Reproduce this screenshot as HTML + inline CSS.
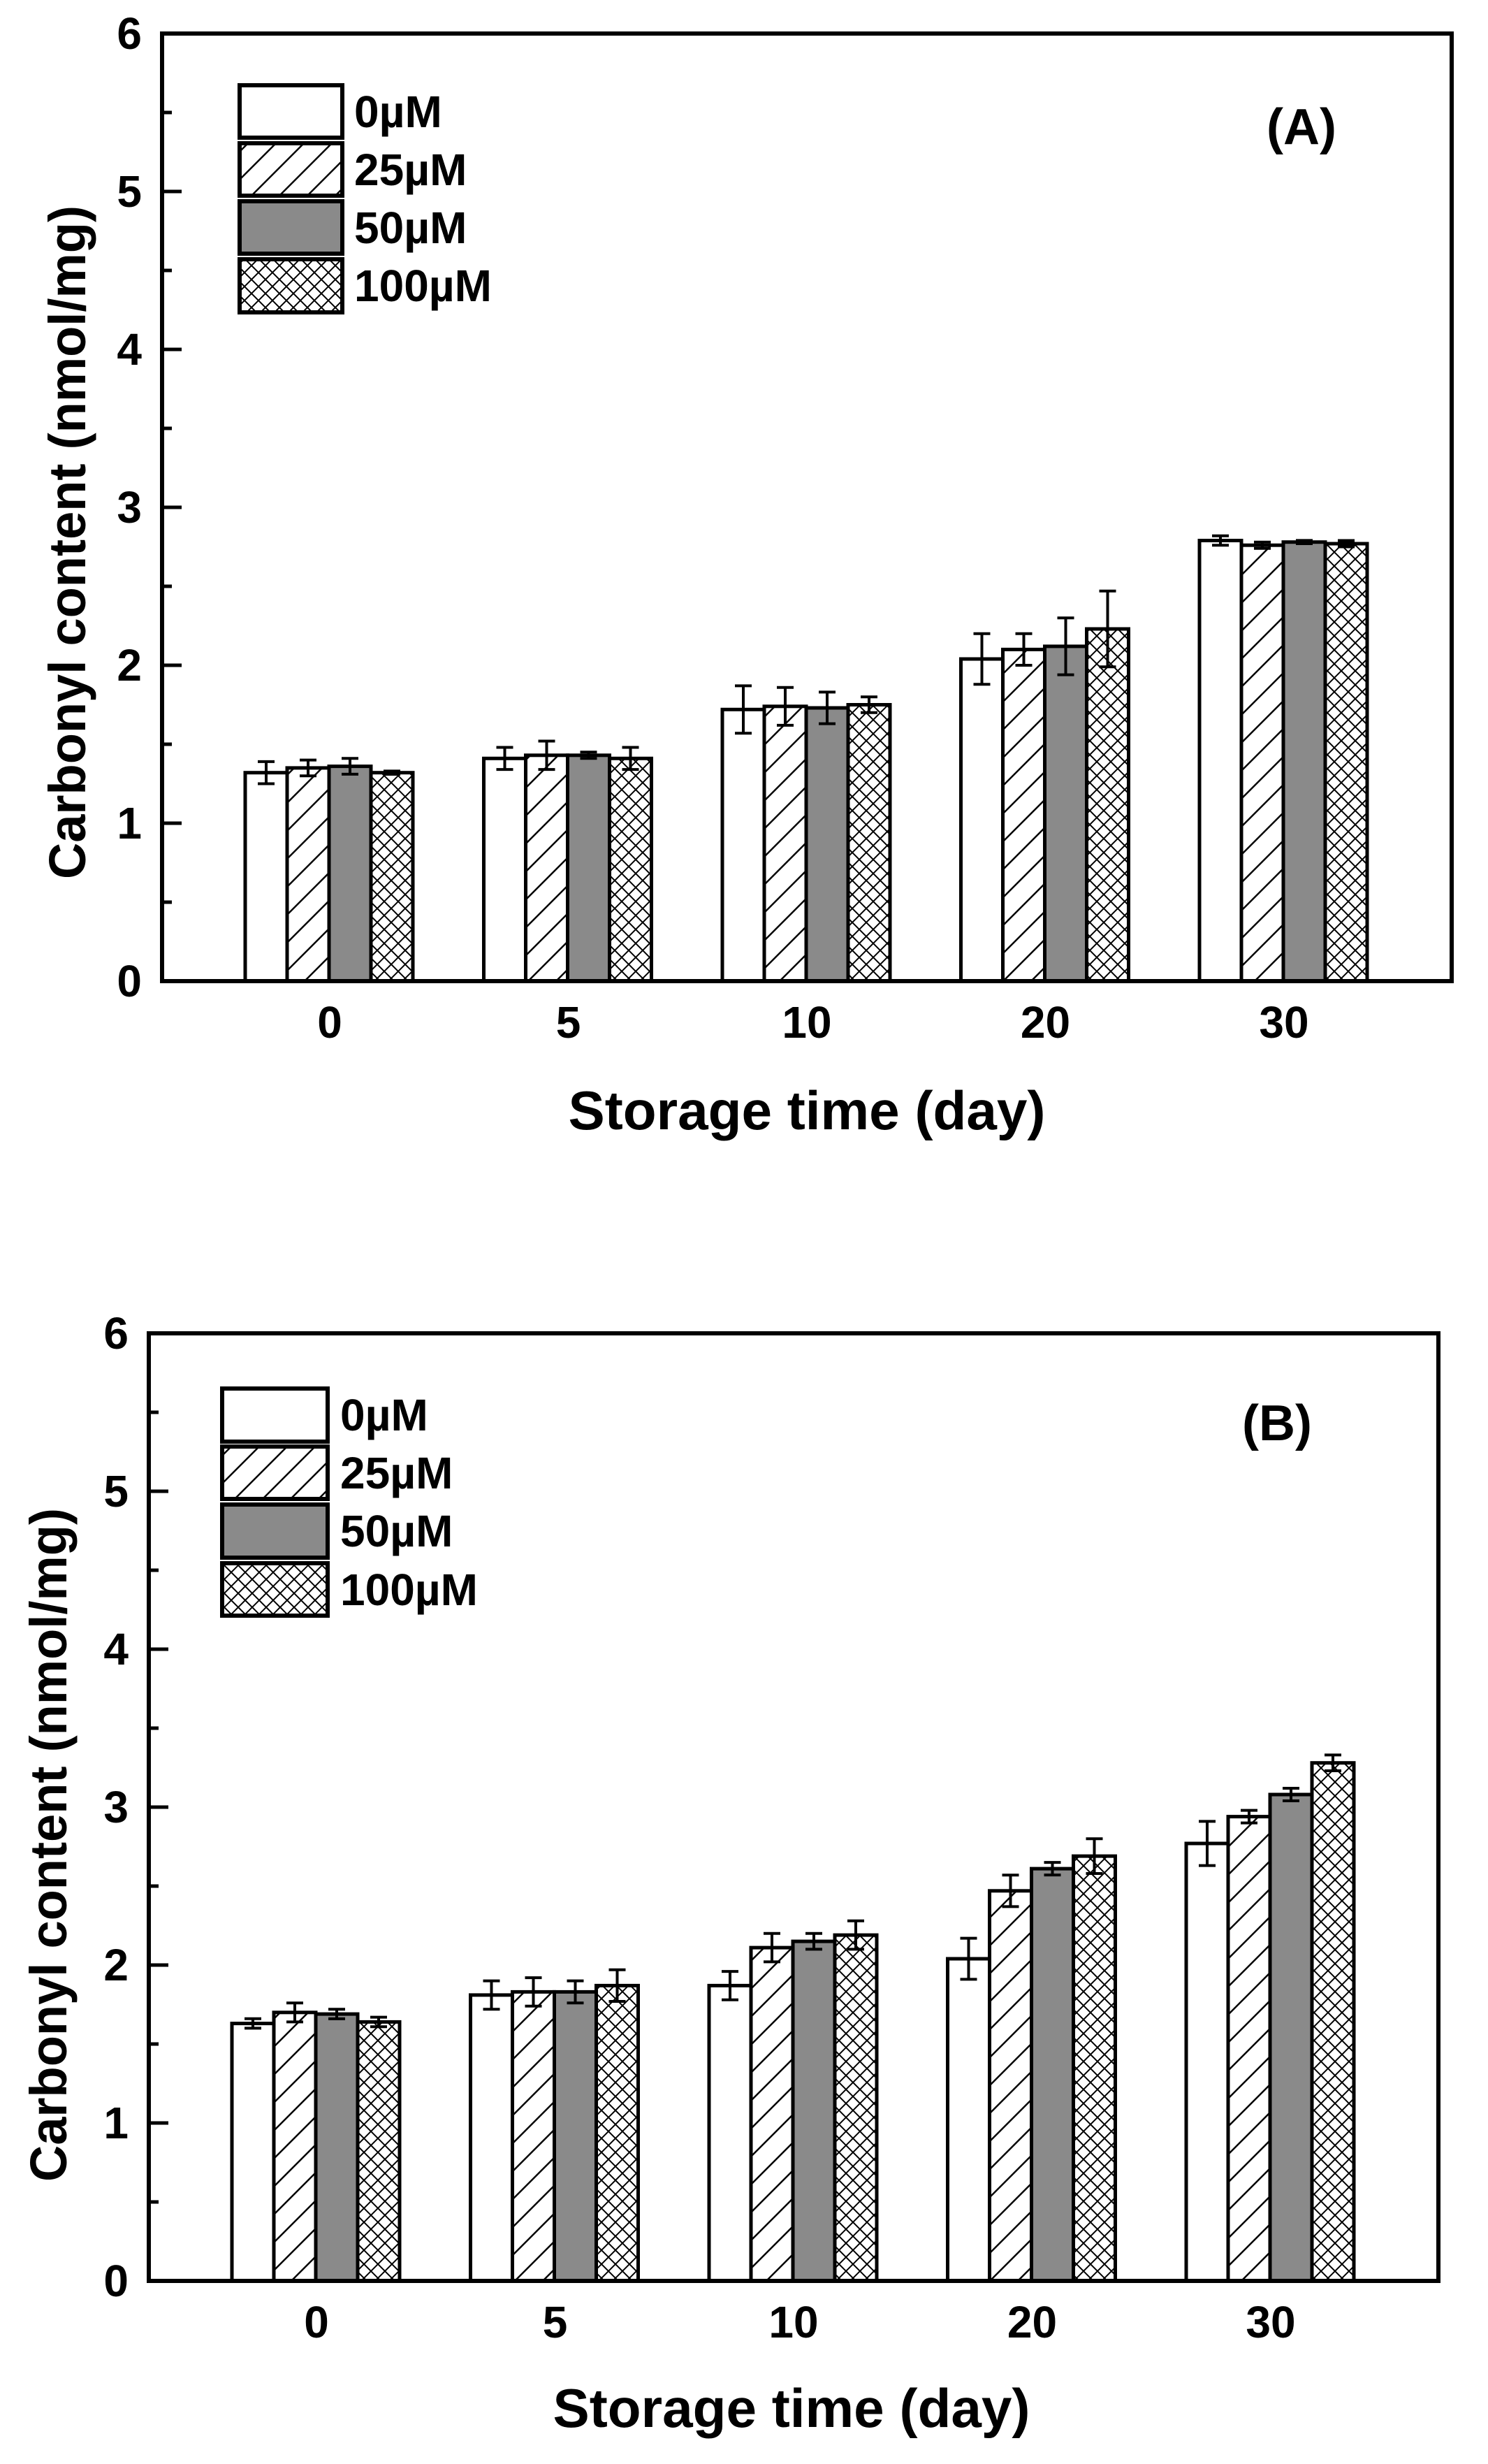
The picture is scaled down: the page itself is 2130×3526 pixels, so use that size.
<!DOCTYPE html>
<html><head><meta charset="utf-8"><style>html,body{margin:0;padding:0;background:#fff}svg{display:block}</style></head>
<body>
<svg xmlns="http://www.w3.org/2000/svg" width="2130" height="3526" viewBox="0 0 2130 3526" font-family="Liberation Sans, Arial, sans-serif" font-weight="bold">
<defs>
<pattern id="h" patternUnits="userSpaceOnUse" width="40" height="40"><path d="M0,40 L40,0 M-10,10 L10,-10 M30,50 L50,30" stroke="#000" stroke-width="2.5"/></pattern>
<pattern id="x" patternUnits="userSpaceOnUse" width="20" height="20"><path d="M0,20 L20,0 M-5,5 L5,-5 M15,25 L25,15 M0,0 L20,20 M-5,15 L5,25 M15,-5 L25,5" stroke="#000" stroke-width="2"/></pattern>
</defs>
<rect width="2130" height="3526" fill="#fff"/>

<g id="A">
<g stroke="#000" stroke-width="5">
<rect x="351" y="1105.7" width="60" height="298.3" fill="#fff"/>
<rect x="411" y="1098.9" width="60" height="305.1" fill="url(#h)"/>
<rect x="471" y="1096.6" width="60" height="307.4" fill="#8a8a8a"/>
<rect x="531" y="1105.7" width="60" height="298.3" fill="url(#x)"/>
<rect x="692.5" y="1085.3" width="60" height="318.7" fill="#fff"/>
<rect x="752.5" y="1080.8" width="60" height="323.2" fill="url(#h)"/>
<rect x="812.5" y="1080.8" width="60" height="323.2" fill="#8a8a8a"/>
<rect x="872.5" y="1085.3" width="60" height="318.7" fill="url(#x)"/>
<rect x="1034" y="1015.3" width="60" height="388.7" fill="#fff"/>
<rect x="1094" y="1010.8" width="60" height="393.2" fill="url(#h)"/>
<rect x="1154" y="1013" width="60" height="391" fill="#8a8a8a"/>
<rect x="1214" y="1008.5" width="60" height="395.5" fill="url(#x)"/>
<rect x="1375.5" y="943" width="60" height="461" fill="#fff"/>
<rect x="1435.5" y="929.4" width="60" height="474.6" fill="url(#h)"/>
<rect x="1495.5" y="924.9" width="60" height="479.1" fill="#8a8a8a"/>
<rect x="1555.5" y="900" width="60" height="504" fill="url(#x)"/>
<rect x="1717" y="773.5" width="60" height="630.5" fill="#fff"/>
<rect x="1777" y="780.2" width="60" height="623.8" fill="url(#h)"/>
<rect x="1837" y="775.7" width="60" height="628.3" fill="#8a8a8a"/>
<rect x="1897" y="778" width="60" height="626" fill="url(#x)"/>
</g>
<g stroke="#000" stroke-width="4" fill="none">
<path d="M381,1089.9V1121.5M369,1089.9H393M369,1121.5H393"/>
<path d="M441,1087.6V1110.2M429,1087.6H453M429,1110.2H453"/>
<path d="M501,1085.3V1107.9M489,1085.3H513M489,1107.9H513"/>
<path d="M561,1103.4V1108M549,1103.4H573M549,1108H573"/>
<path d="M722.5,1069.5V1101.1M710.5,1069.5H734.5M710.5,1101.1H734.5"/>
<path d="M782.5,1060.5V1101.1M770.5,1060.5H794.5M770.5,1101.1H794.5"/>
<path d="M842.5,1076.3V1085.3M830.5,1076.3H854.5M830.5,1085.3H854.5"/>
<path d="M902.5,1069.5V1101.1M890.5,1069.5H914.5M890.5,1101.1H914.5"/>
<path d="M1064,981.4V1049.2M1052,981.4H1076M1052,1049.2H1076"/>
<path d="M1124,983.7V1037.9M1112,983.7H1136M1112,1037.9H1136"/>
<path d="M1184,990.4V1035.6M1172,990.4H1196M1172,1035.6H1196"/>
<path d="M1244,997.2V1019.8M1232,997.2H1256M1232,1019.8H1256"/>
<path d="M1405.5,906.8V979.2M1393.5,906.8H1417.5M1393.5,979.2H1417.5"/>
<path d="M1465.5,906.8V952M1453.5,906.8H1477.5M1453.5,952H1477.5"/>
<path d="M1525.5,884.2V965.6M1513.5,884.2H1537.5M1513.5,965.6H1537.5"/>
<path d="M1585.5,845.8V954.2M1573.5,845.8H1597.5M1573.5,954.2H1597.5"/>
<path d="M1747,766.7V780.3M1735,766.7H1759M1735,780.3H1759"/>
<path d="M1807,775.7V784.7M1795,775.7H1819M1795,784.7H1819"/>
<path d="M1867,773.4V778M1855,773.4H1879M1855,778H1879"/>
<path d="M1927,773.5V782.5M1915,773.5H1939M1915,782.5H1939"/>
</g>
<rect x="232" y="48" width="1846" height="1356" fill="none" stroke="#000" stroke-width="6"/>
<path stroke="#000" stroke-width="5" d="M232,1404h28M232,1178h28M232,952h28M232,726h28M232,500h28M232,274h28M232,1291h14M232,1065h14M232,839h14M232,613h14M232,387h14M232,161h14"/>
<g font-size="64" text-anchor="end">
<text x="203" y="1426">0</text><text x="203" y="1200">1</text><text x="203" y="974">2</text><text x="203" y="748">3</text><text x="203" y="522">4</text><text x="203" y="296">5</text><text x="203" y="70">6</text>
</g>
<g font-size="64" text-anchor="middle">
<text x="472" y="1485">0</text><text x="813.5" y="1485">5</text><text x="1155" y="1485">10</text><text x="1496.5" y="1485">20</text><text x="1838" y="1485">30</text>
</g>
<text x="1155" y="1616" font-size="78" text-anchor="middle" textLength="683" lengthAdjust="spacingAndGlyphs">Storage time (day)</text>
<text transform="translate(122,776) rotate(-90)" font-size="74" text-anchor="middle" textLength="964" lengthAdjust="spacingAndGlyphs">Carbonyl content (nmol/mg)</text>
<text x="1863" y="206" font-size="72" text-anchor="middle">(A)</text>
<g stroke="#000" stroke-width="6">
<rect x="343" y="122" width="147" height="75" fill="#fff"/>
<rect x="343" y="205" width="147" height="75" fill="url(#h)"/>
<rect x="343" y="288" width="147" height="75" fill="#8a8a8a"/>
<rect x="343" y="371" width="147" height="76" fill="url(#x)"/>
</g>
<g font-size="64">
<text x="507" y="182">0µM</text><text x="507" y="265">25µM</text><text x="507" y="348">50µM</text><text x="507" y="431">100µM</text>
</g>
</g>

<g id="B" transform="translate(-19,1860)">
<g stroke="#000" stroke-width="5">
<rect x="351" y="1035.6" width="60" height="368.4" fill="#fff"/>
<rect x="411" y="1019.8" width="60" height="384.2" fill="url(#h)"/>
<rect x="471" y="1022.1" width="60" height="381.9" fill="#8a8a8a"/>
<rect x="531" y="1033.4" width="60" height="370.6" fill="url(#x)"/>
<rect x="692.5" y="994.9" width="60" height="409.1" fill="#fff"/>
<rect x="752.5" y="990.4" width="60" height="413.6" fill="url(#h)"/>
<rect x="812.5" y="990.4" width="60" height="413.6" fill="#8a8a8a"/>
<rect x="872.5" y="981.4" width="60" height="422.6" fill="url(#x)"/>
<rect x="1034" y="981.4" width="60" height="422.6" fill="#fff"/>
<rect x="1094" y="927.1" width="60" height="476.9" fill="url(#h)"/>
<rect x="1154" y="918.1" width="60" height="485.9" fill="#8a8a8a"/>
<rect x="1214" y="909.1" width="60" height="494.9" fill="url(#x)"/>
<rect x="1375.5" y="943" width="60" height="461" fill="#fff"/>
<rect x="1435.5" y="845.8" width="60" height="558.2" fill="url(#h)"/>
<rect x="1495.5" y="814.1" width="60" height="589.9" fill="#8a8a8a"/>
<rect x="1555.5" y="796.1" width="60" height="607.9" fill="url(#x)"/>
<rect x="1717" y="778" width="60" height="626" fill="#fff"/>
<rect x="1777" y="739.6" width="60" height="664.4" fill="url(#h)"/>
<rect x="1837" y="708" width="60" height="696" fill="#8a8a8a"/>
<rect x="1897" y="662.7" width="60" height="741.3" fill="url(#x)"/>
</g>
<g stroke="#000" stroke-width="4" fill="none">
<path d="M381,1028.8V1042.4M369,1028.8H393M369,1042.4H393"/>
<path d="M441,1006.2V1033.4M429,1006.2H453M429,1033.4H453"/>
<path d="M501,1015.3V1028.9M489,1015.3H513M489,1028.9H513"/>
<path d="M561,1026.6V1040.2M549,1026.6H573M549,1040.2H573"/>
<path d="M722.5,974.6V1015.2M710.5,974.6H734.5M710.5,1015.2H734.5"/>
<path d="M782.5,970.1V1010.7M770.5,970.1H794.5M770.5,1010.7H794.5"/>
<path d="M842.5,974.6V1006.2M830.5,974.6H854.5M830.5,1006.2H854.5"/>
<path d="M902.5,958.8V1004M890.5,958.8H914.5M890.5,1004H914.5"/>
<path d="M1064,961.1V1001.7M1052,961.1H1076M1052,1001.7H1076"/>
<path d="M1124,906.8V947.4M1112,906.8H1136M1112,947.4H1136"/>
<path d="M1184,906.8V929.4M1172,906.8H1196M1172,929.4H1196"/>
<path d="M1244,888.8V929.4M1232,888.8H1256M1232,929.4H1256"/>
<path d="M1405.5,913.6V972.4M1393.5,913.6H1417.5M1393.5,972.4H1417.5"/>
<path d="M1465.5,823.2V868.4M1453.5,823.2H1477.5M1453.5,868.4H1477.5"/>
<path d="M1525.5,805.1V823.1M1513.5,805.1H1537.5M1513.5,823.1H1537.5"/>
<path d="M1585.5,771.2V821M1573.5,771.2H1597.5M1573.5,821H1597.5"/>
<path d="M1747,746.4V809.6M1735,746.4H1759M1735,809.6H1759"/>
<path d="M1807,730.6V748.6M1795,730.6H1819M1795,748.6H1819"/>
<path d="M1867,699V717M1855,699H1879M1855,717H1879"/>
<path d="M1927,651.4V674M1915,651.4H1939M1915,674H1939"/>
</g>
<rect x="232" y="48" width="1846" height="1356" fill="none" stroke="#000" stroke-width="6"/>
<path stroke="#000" stroke-width="5" d="M232,1404h28M232,1178h28M232,952h28M232,726h28M232,500h28M232,274h28M232,1291h14M232,1065h14M232,839h14M232,613h14M232,387h14M232,161h14"/>
<g font-size="64" text-anchor="end">
<text x="203" y="1426">0</text><text x="203" y="1200">1</text><text x="203" y="974">2</text><text x="203" y="748">3</text><text x="203" y="522">4</text><text x="203" y="296">5</text><text x="203" y="70">6</text>
</g>
<g font-size="64" text-anchor="middle">
<text x="472" y="1485">0</text><text x="813.5" y="1485">5</text><text x="1155" y="1485">10</text><text x="1496.5" y="1485">20</text><text x="1838" y="1485">30</text>
</g>
<text x="1152" y="1613" font-size="78" text-anchor="middle" textLength="683" lengthAdjust="spacingAndGlyphs">Storage time (day)</text>
<text transform="translate(114,780) rotate(-90)" font-size="74" text-anchor="middle" textLength="964" lengthAdjust="spacingAndGlyphs">Carbonyl content (nmol/mg)</text>
<text x="1847" y="201" font-size="72" text-anchor="middle">(B)</text>
<g stroke="#000" stroke-width="6">
<rect x="337" y="127" width="151" height="76" fill="#fff"/>
<rect x="337" y="210" width="151" height="75" fill="url(#h)"/>
<rect x="337" y="293" width="151" height="76" fill="#8a8a8a"/>
<rect x="337" y="377" width="151" height="75" fill="url(#x)"/>
</g>
<g font-size="64">
<text x="506" y="187">0µM</text><text x="506" y="270">25µM</text><text x="506" y="353">50µM</text><text x="506" y="437">100µM</text>
</g>
</g>
</svg>
</body></html>
